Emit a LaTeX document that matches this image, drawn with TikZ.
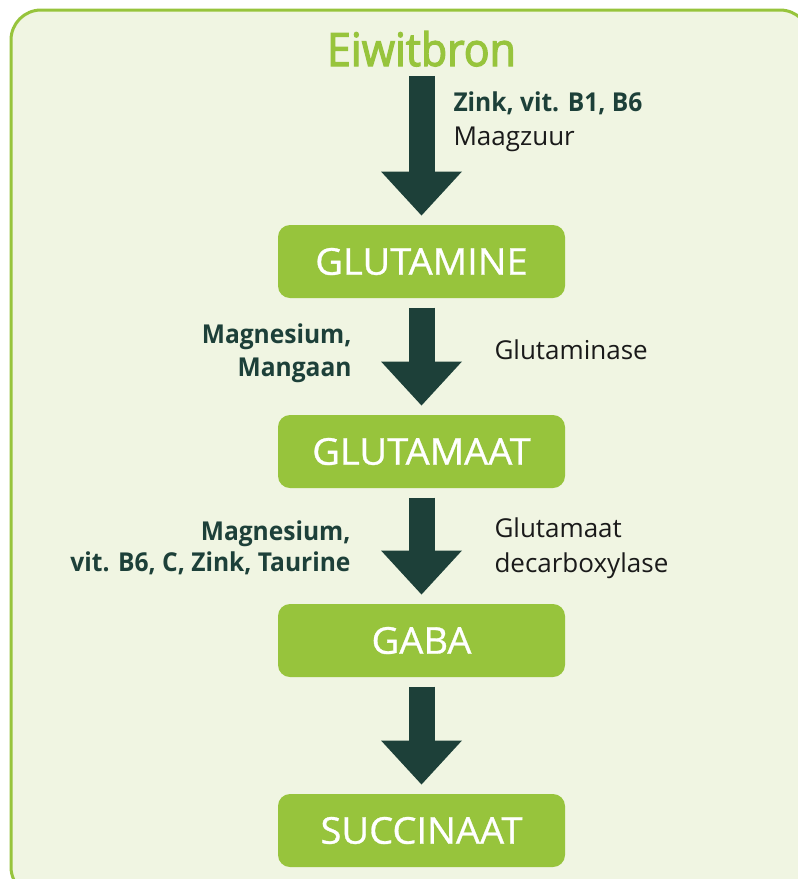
\documentclass[tikz,border=0pt]{standalone}
\usepackage{fontspec}
\setmainfont{Open Sans}
\usetikzlibrary{arrows.meta}
\newlength{\du}
\setlength{\du}{1pt}
\definecolor{achtergrond}{rgb}{0.941176, 0.960784, 0.886275}
\definecolor{lichtgroen}{rgb}{0.592157, 0.768627, 0.235294}
\definecolor{donkergroen}{rgb}{0.113725, 0.250980, 0.223529}
\definecolor{tekstzwart}{rgb}{0.101961, 0.101961, 0.101961}
\tikzset{
  stofblok/.style={fill=lichtgroen, text=white, rounded corners=12\du, minimum width=287\du, minimum height=73\du, inner sep=0pt, font=\fontsize{37\du}{44\du}\selectfont\addfontfeature{FakeBold=0.8,FakeStretch=1.03}},
  cofactor/.style={text=donkergroen, inner sep=0pt, font=\fontsize{26\du}{32\du}\selectfont\bfseries\addfontfeature{FakeStretch=0.945}},
  enzym/.style={text=tekstzwart, inner sep=0pt, font=\fontsize{26\du}{32\du}\selectfont},
  blokpijl/.style={draw=donkergroen, line width=26\du, shorten <=8\du, shorten >=8\du, -{Triangle[width=81pt,length=44pt,line width=0pt]}},
}
\begin{document}
\begin{tikzpicture}
\pgftransformxscale{1.000000}
\pgftransformyscale{-1.000000}
\useasboundingbox (0\du,0\du) rectangle (798\du,879\du);
\clip (0\du,0\du) rectangle (798\du,879\du);
\definecolor{dialinecolor}{rgb}{1.000000, 1.000000, 1.000000}
\pgfsetfillcolor{dialinecolor}
\fill (0\du,0\du) rectangle (798\du,879\du);
% kader
\pgfsetlinewidth{3.000000\du}
\draw[draw=lichtgroen, fill=achtergrond, rounded corners=30\du] (11\du,10\du) rectangle (810\du,897\du);
% stoffen
\node[anchor=base, text=lichtgroen, inner sep=0pt, font=\fontsize{46\du}{54\du}\selectfont\addfontfeature{FakeBold=2.6,FakeStretch=0.93}] (eiwitbron) at (421.5\du,66\du){Eiwitbron};
\node[stofblok] (glutamine) at (421.5\du,261.5\du){GLUTAMINE};
\node[stofblok] (glutamaat) at (421.5\du,451.5\du){GLUTAMAAT};
\node[stofblok] (gaba) at (421.5\du,640.5\du){GABA};
\node[stofblok] (succinaat) at (421.5\du,830.5\du){SUCCINAAT};
% pijlen
\draw[blokpijl] (eiwitbron) -- (glutamine);
\draw[blokpijl] (glutamine) -- (glutamaat);
\draw[blokpijl] (glutamaat) -- (gaba);
\draw[blokpijl] (gaba) -- (succinaat);
% cofactoren en enzymen
\node[cofactor, anchor=base west] (zink) at (452\du,111\du){Zink, vit. B1, B6};
\node[enzym, anchor=base west] (maagzuur) at (452\du,145\du){Maagzuur};
\node[cofactor, anchor=base east] (magnesiumA) at (353\du,343\du){Magnesium,};
\node[cofactor, anchor=base east] (mangaan) at (353\du,376\du){Mangaan};
\node[enzym, anchor=base west] (glutaminase) at (493\du,359\du){Glutaminase};
\node[cofactor, anchor=base east] (magnesiumB) at (352\du,540\du){Magnesium,};
\node[cofactor, anchor=base east] (vitaminen) at (352\du,571\du){vit. B6, C, Zink, Taurine};
\node[enzym, anchor=base west] (decarbA) at (493\du,537\du){Glutamaat};
\node[enzym, anchor=base west] (decarbB) at (493\du,572\du){decarboxylase};
\end{tikzpicture}
\end{document}
